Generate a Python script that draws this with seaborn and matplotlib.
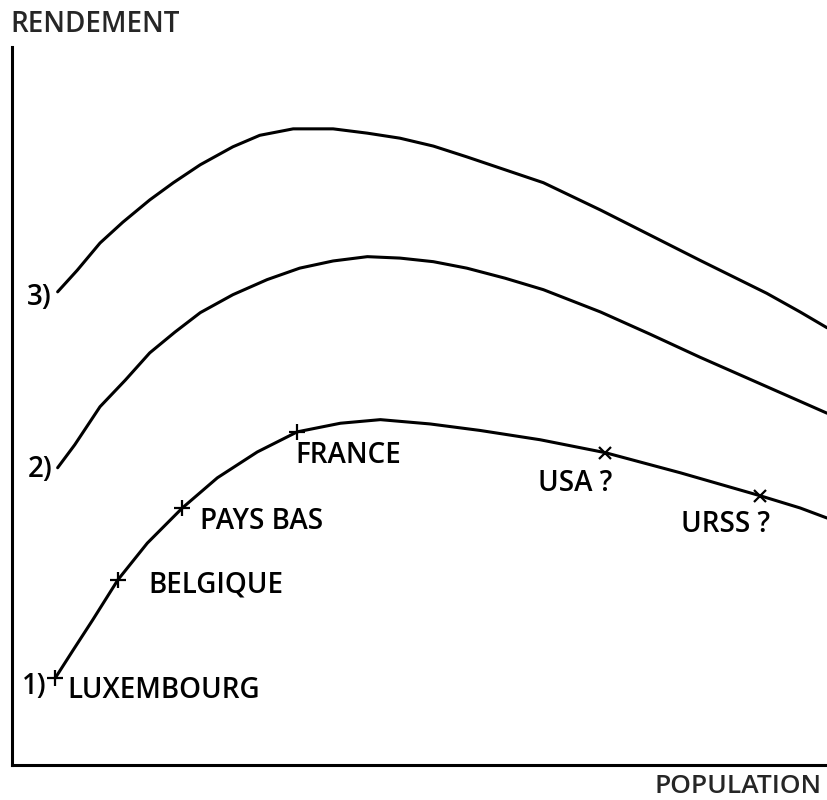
import matplotlib
matplotlib.use("Agg")
import matplotlib.pyplot as plt
import seaborn as sns
import pandas as pd

# ---- data (arbitrary units: population 0-100, rendement 0-100) ----
c3_x = [5.6, 8.0, 10.8, 13.6, 16.9, 19.8, 23.1, 27.1, 30.4, 34.5, 39.4, 43.6, 47.6,
        51.7, 55.8, 60.5, 65.2, 72.2, 78.3, 84.4, 92.6, 96.7, 100.0]
c3_y = [65.9, 68.9, 72.7, 75.6, 78.7, 81.1, 83.6, 86.1, 87.7, 88.6, 88.6, 88.0, 87.3,
        86.2, 84.7, 82.9, 81.1, 77.3, 73.8, 70.3, 65.7, 63.1, 60.9]

c2_x = [5.6, 7.7, 10.8, 13.9, 16.9, 20.0, 23.1, 27.1, 31.3, 35.3, 39.4, 43.6, 47.6,
        51.7, 55.8, 60.5, 65.2, 72.2, 78.3, 84.4, 92.6, 100.0]
c2_y = [41.4, 44.6, 49.9, 53.6, 57.4, 60.3, 63.0, 65.5, 67.6, 69.2, 70.2, 70.8, 70.6,
        70.1, 69.2, 67.8, 66.2, 63.1, 60.0, 56.8, 52.7, 49.0]

c1_x = [5.3, 7.5, 9.9, 13.0, 16.6, 20.9, 25.2, 30.1, 35.0, 40.3, 45.2, 51.3, 57.4,
        64.8, 72.8, 82.0, 91.8, 96.7, 100.0]
c1_y = [12.1, 16.0, 20.2, 25.8, 30.9, 35.8, 40.0, 43.6, 46.4, 47.6, 48.1, 47.5, 46.6,
        45.3, 43.5, 40.7, 37.5, 35.8, 34.4]

countries = ["LUXEMBOURG", "BELGIQUE", "PAYS BAS", "FRANCE", "USA ?", "URSS ?"]
country_x = [5.3, 13.0, 20.9, 35.0, 72.8, 91.8]
country_y = [12.1, 25.8, 35.8, 46.4, 43.5, 37.5]
curve_labels = ["1)", "2)", "3)"]

# ---- figure ----
sns.set_theme(style="white")
plt.rcParams["font.family"] = ["Open Sans", "DejaVu Sans"]
fig = plt.figure(figsize=(8.27, 8.0), dpi=100)
ax = fig.add_axes([12 / 827, 35 / 800, 815 / 827, 718 / 800])

curves = pd.DataFrame({
    "x": c1_x + c2_x + c3_x,
    "y": c1_y + c2_y + c3_y,
    "curve": ["1"] * len(c1_x) + ["2"] * len(c2_x) + ["3"] * len(c3_x),
})
sns.lineplot(data=curves, x="x", y="y", units="curve", estimator=None,
             color="black", lw=2.2, sort=False, ax=ax, legend=False)

markers = ["+", "+", "+", "+", "x", "x"]
for x, y, m in zip(country_x, country_y, markers):
    ax.plot(x, y, marker=m, color="black", ms=11 if m == "+" else 8, mew=1.6)

fs = 20
fw = "semibold"
offsets = [(9, -9, "left"), (22, -4, "left"), (13, -10, "left"),
           (-1, -17, "left"), (5, -22, "right"), (7, -21, "right")]
for name, x, y, (dx, dy, ha) in zip(countries, country_x, country_y, offsets):
    ax.annotate(name, (x, y), xytext=(dx, dy), textcoords="offset points",
                ha=ha, va="center", fontsize=fs, fontweight=fw, color="black")

starts = [(c1_x[0], c1_y[0], -6, -6), (c2_x[0], c2_y[0], -4, -1), (c3_x[0], c3_y[0], -4, -4)]
for lab, (x, y, dx, dy) in zip(curve_labels, starts):
    ax.annotate(lab, (x, y), xytext=(dx, dy), textcoords="offset points",
                ha="right", va="center", fontsize=fs, fontweight=fw, color="black")

ax.set_xlim(0, 100)
ax.set_ylim(0, 100)
ax.set_xticks([])
ax.set_yticks([])
ax.set_xlabel("")
ax.set_ylabel("")
for s in ["top", "right"]:
    ax.spines[s].set_visible(False)
for s in ["left", "bottom"]:
    ax.spines[s].set_color("black")
    ax.spines[s].set_linewidth(2.2)

fig.text(10 / 827, 1 - 25 / 800, "RENDEMENT", ha="left", va="center",
         fontsize=fs, fontweight=fw)
fig.text(822 / 827, 1 - 793 / 800, "POPULATION", ha="right", va="baseline",
         fontsize=19, fontweight=fw)

fig.savefig("out.png", dpi=100, facecolor="white")
